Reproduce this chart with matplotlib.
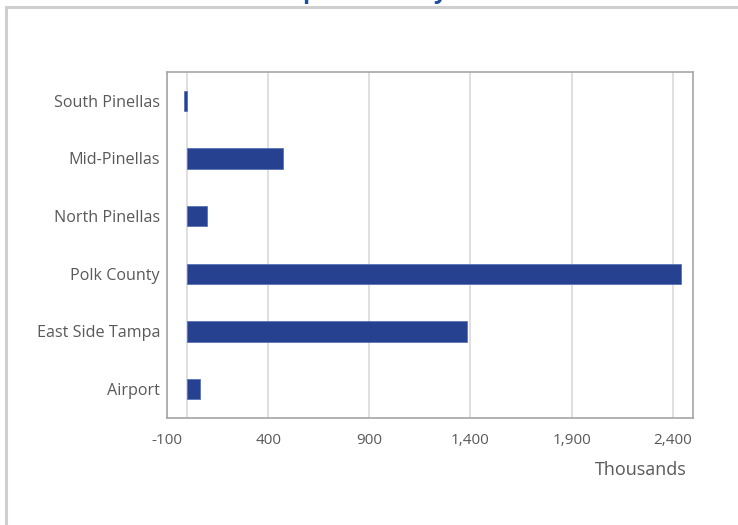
import matplotlib.pyplot as plt
from matplotlib.lines import Line2D
from matplotlib.ticker import FuncFormatter

# data (thousands)
categories = ["Airport", "East Side Tampa", "Polk County", "North Pinellas", "Mid-Pinellas", "South Pinellas"]
values = [62, 1385, 2440, 100, 472, -15]
xticks = [-100, 400, 900, 1400, 1900, 2400]

plt.rcParams['font.family'] = ['Open Sans', 'DejaVu Sans']

fig = plt.figure(figsize=(7.38, 5.25), dpi=100)
ax = fig.add_axes([0.2263, 0.2038, 0.7127, 0.6591])

bar_color = "#254190"
ax.barh(range(len(categories)), values, height=0.35, color=bar_color,
        edgecolor="#5a72b8", linewidth=0.6, zorder=3)

ax.set_xlim(-100, 2500)
ax.set_ylim(-0.5, len(categories) - 0.5)
ax.set_xticks(xticks)
ax.xaxis.set_major_formatter(FuncFormatter(lambda v, p: f"{int(v):,}"))
ax.set_yticks(range(len(categories)))
ax.set_yticklabels(categories)

ax.grid(axis="x", color="#d9d9d9", linewidth=1.2, zorder=0)
ax.axvline(0, color="#d9d9d9", linewidth=1.2, zorder=1)
ax.tick_params(axis="both", length=0, labelsize=11, colors="#595959")
ax.tick_params(axis="y", labelsize=11.6, pad=5)
ax.tick_params(axis="x", pad=11)
for s in ax.spines.values():
    s.set_color("#a6a6a6")
    s.set_linewidth(1.2)

fig.text(687 / 738, 1 - 470 / 525, "Thousands", ha="right", va="center",
         fontsize=13, color="#595959")

# chart area frame (only top and left edges are in the picture)
frame_x = 6 / 738
frame_y = 1 - 7 / 525
fig.lines.append(Line2D([frame_x, 1.0], [frame_y, frame_y], transform=fig.transFigure,
                        color="#cfcfcf", linewidth=2.2))
fig.lines.append(Line2D([frame_x, frame_x], [0.0, frame_y], transform=fig.transFigure,
                        color="#cfcfcf", linewidth=2.2))

# title mostly clipped at the top
fig.text(0.529, 1 + 2 / 525, "Capital Cost by Area", ha="center", va="baseline",
         fontsize=16.8, fontweight="bold", color="#1f4e9c")

fig.savefig("out.png", dpi=100, facecolor="white")
